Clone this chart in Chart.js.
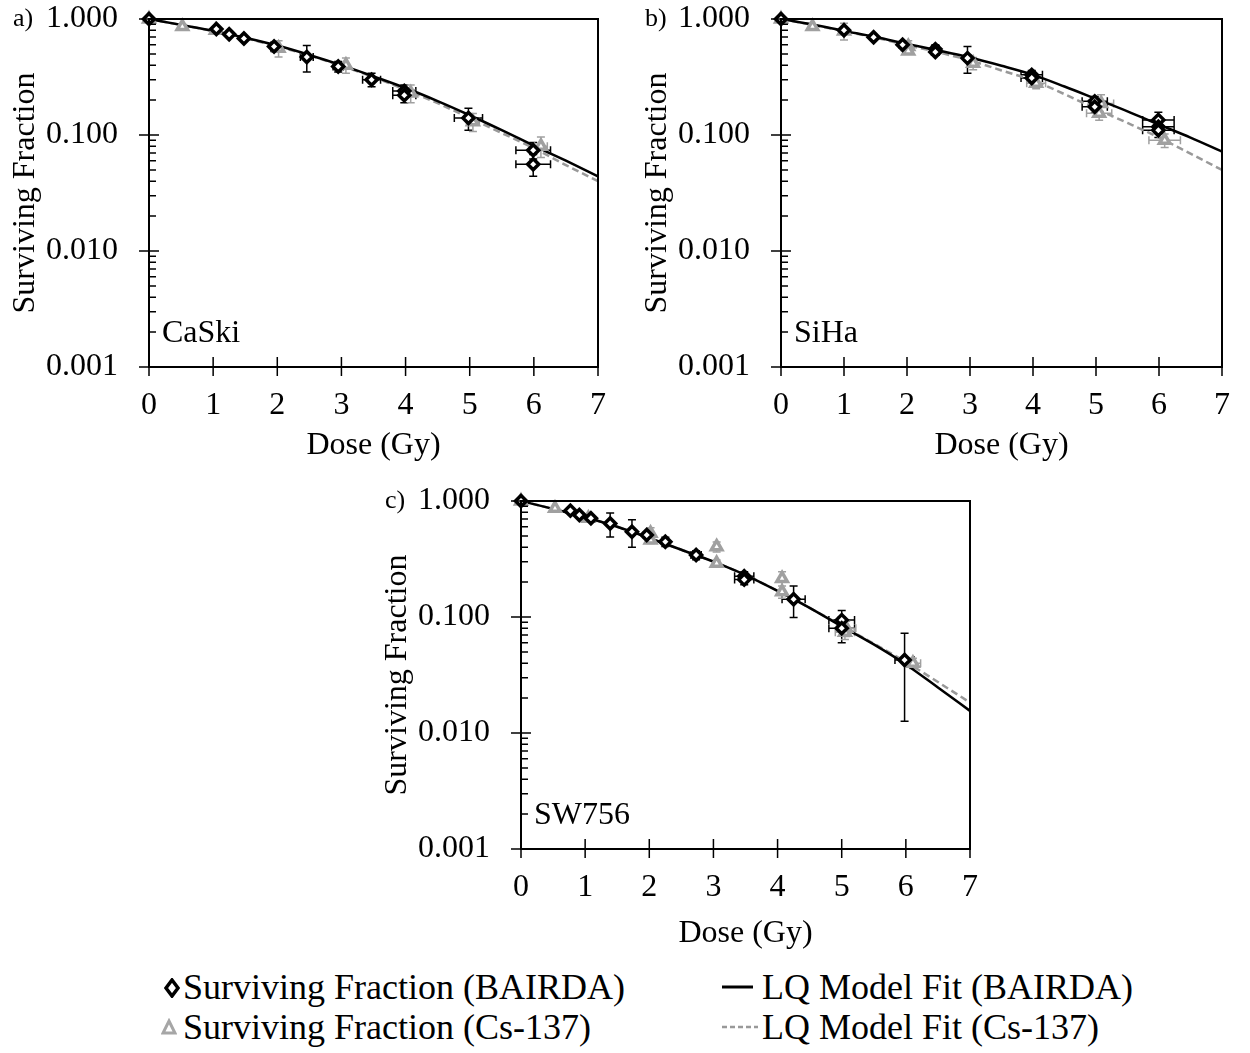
<!DOCTYPE html>
<html>
<head>
<meta charset="utf-8">
<title>Surviving Fraction vs Dose</title>
<script src="https://cdn.jsdelivr.net/npm/chart.js"></script>
<style>
    body { margin: 0; width: 1250px; height: 1053px; position: relative; overflow: hidden; background: #fff;
           font-family: "Liberation Serif", "Times New Roman", serif; }
    canvas { position: absolute; }
    .key { position: absolute; font-size: 36px; line-height: 40px; color: #000; white-space: nowrap; }
    .mark { position: absolute; }
</style>
</head>
<body>
<canvas id="chartA" width="625" height="470" style="left:0;top:0"></canvas>
<canvas id="chartB" width="617" height="470" style="left:632px;top:0"></canvas>
<canvas id="chartC" width="625" height="476" style="left:372px;top:482px"></canvas>

<!-- legend -->
<svg class="mark" style="left:164px;top:978px" width="16" height="20"><polygon points="8,2 14,10 8,18 2,10" fill="#fff" stroke="#000" stroke-width="3.5"/></svg>
<div class="key" style="left:183px;top:967px">Surviving Fraction (BAIRDA)</div>
<svg class="mark" style="left:161px;top:1018px" width="16" height="18"><polygon points="8,3 14,15 2,15" fill="#fff" stroke="#a6a6a6" stroke-width="3"/></svg>
<div class="key" style="left:183px;top:1007px">Surviving Fraction (Cs-137)</div>
<svg class="mark" style="left:722px;top:984px" width="32" height="6"><line x1="0" y1="3" x2="31" y2="3" stroke="#000" stroke-width="3"/></svg>
<div class="key" style="left:762px;top:967px">LQ Model Fit (BAIRDA)</div>
<svg class="mark" style="left:722px;top:1024px" width="36" height="6"><line x1="0" y1="3" x2="36" y2="3" stroke="#999" stroke-width="2.5" stroke-dasharray="5,3"/></svg>
<div class="key" style="left:762px;top:1007px">LQ Model Fit (Cs-137)</div>

<script>
    // axis ticks
    const doseTicks = [0, 1, 2, 3, 4, 5, 6, 7];
    const sfTicks = [
        0.001, 0.002, 0.003, 0.004, 0.005, 0.006, 0.007, 0.008, 0.009,
        0.01, 0.02, 0.03, 0.04, 0.05, 0.06, 0.07, 0.08, 0.09,
        0.1, 0.2, 0.3, 0.4, 0.5, 0.6, 0.7, 0.8, 0.9, 1
    ];

    // doses at which the LQ fits are tabulated
    const fitDose = [0, 0.5, 1, 1.5, 2, 2.5, 3, 3.5, 4, 4.5, 5, 5.5, 6, 6.5, 7];

    // CaSki
    const caskiBairdaDose    = [0, 1.05, 1.25, 1.48, 1.95, 2.46, 2.95, 3.47, 3.98, 3.98, 4.98, 5.99, 5.99];
    const caskiBairdaSF      = [1, 0.82, 0.74, 0.68, 0.58, 0.47, 0.39, 0.30, 0.24, 0.22, 0.14, 0.074, 0.056];
    const caskiBairdaSFErr   = [0, 0.03, 0.02, 0.02, 0.05, 0.12, 0.04, 0.04, 0.03, 0.03, 0.03, 0.012, 0.012];
    const caskiBairdaDoseErr = [0, 0, 0, 0, 0.05, 0.1, 0.08, 0.14, 0.18, 0.18, 0.22, 0.27, 0.27];
    const caskiCsDose        = [0, 0.52, 1.04, 2.02, 3.07, 4.08, 5.05, 6.11];
    const caskiCsSF          = [1, 0.86, 0.80, 0.56, 0.40, 0.23, 0.13, 0.08];
    const caskiCsSFErr       = [0, 0.04, 0.05, 0.09, 0.06, 0.04, 0.023, 0.016];
    const caskiCsDoseErr     = [0, 0, 0, 0, 0, 0.06, 0.1, 0.1];
    const caskiFitBairda     = [1, 0.89, 0.79, 0.69, 0.59, 0.49, 0.40, 0.32, 0.254, 0.196, 0.148, 0.11, 0.081, 0.06, 0.044];
    const caskiFitCs         = [1, 0.89, 0.785, 0.685, 0.58, 0.485, 0.395, 0.315, 0.245, 0.188, 0.14, 0.104, 0.077, 0.055, 0.040];

    // SiHa
    const sihaBairdaDose    = [0, 1.0, 1.47, 1.93, 2.45, 2.45, 2.96, 3.98, 3.98, 4.98, 4.98, 5.99, 5.99, 5.99];
    const sihaBairdaSF      = [1, 0.80, 0.695, 0.60, 0.55, 0.52, 0.46, 0.33, 0.31, 0.195, 0.175, 0.135, 0.118, 0.11];
    const sihaBairdaSFErr   = [0, 0.03, 0.03, 0.04, 0.05, 0.03, 0.12, 0.03, 0.03, 0.02, 0.02, 0.022, 0.015, 0.015];
    const sihaBairdaDoseErr = [0, 0, 0, 0.05, 0.06, 0.06, 0.05, 0.17, 0.17, 0.2, 0.2, 0.25, 0.25, 0.25];
    const sihaCsDose        = [0, 0.5, 1.0, 2.02, 2.02, 3.05, 4.05, 5.08, 5.05, 6.09];
    const sihaCsSF          = [1, 0.86, 0.79, 0.58, 0.53, 0.415, 0.28, 0.187, 0.154, 0.09];
    const sihaCsSFErr       = [0, 0.02, 0.13, 0.07, 0.03, 0.05, 0.03, 0.035, 0.02, 0.012];
    const sihaCsDoseErr     = [0, 0, 0, 0, 0, 0.05, 0.15, 0.2, 0.2, 0.25];
    const sihaFitBairda     = [1, 0.895, 0.79, 0.70, 0.61, 0.535, 0.465, 0.395, 0.33, 0.262, 0.205, 0.16, 0.123, 0.095, 0.072];
    const sihaFitCs         = [1, 0.89, 0.785, 0.69, 0.595, 0.515, 0.44, 0.36, 0.295, 0.225, 0.168, 0.127, 0.095, 0.069, 0.050];

    // SW756
    const sw756BairdaDose    = [0, 0.77, 0.91, 1.09, 1.39, 1.73, 1.96, 2.25, 2.73, 3.48, 3.48, 4.25, 5.0, 5.0, 5.98];
    const sw756BairdaSF      = [1, 0.826, 0.757, 0.71, 0.64, 0.544, 0.51, 0.446, 0.342, 0.225, 0.21, 0.142, 0.094, 0.08, 0.0426];
    const sw756BairdaSFErr   = [0, 0.02, 0.03, 0.02, 0.15, 0.145, 0.03, 0.04, 0.03, 0.02, 0.02, 0.043, 0.02, 0.02, 0.03];
    const sw756BairdaDoseErr = [0, 0, 0, 0.04, 0, 0, 0.04, 0.04, 0.08, 0.15, 0.15, 0.18, 0.2, 0.2, 0.15];
    const sw756CsDose        = [0, 0.53, 1.05, 2.02, 2.02, 3.05, 3.05, 4.07, 4.07, 5.07, 5.05, 6.11];
    const sw756CsSF          = [1, 0.865, 0.71, 0.527, 0.46, 0.404, 0.29, 0.215, 0.165, 0.08, 0.074, 0.040];
    const sw756CsSFErr       = [0, 0.02, 0.03, 0.06, 0.03, 0.04, 0.02, 0.03, 0.02, 0.012, 0.01, 0.004];
    const sw756CsDoseErr     = [0, 0, 0, 0, 0, 0, 0, 0, 0, 0.15, 0.15, 0.12];
    const sw756FitBairda     = [1, 0.855, 0.725, 0.60, 0.48, 0.38, 0.30, 0.23, 0.168, 0.12, 0.083, 0.058, 0.039, 0.0247, 0.0155];
    const sw756FitCs         = [1, 0.855, 0.725, 0.60, 0.48, 0.38, 0.30, 0.23, 0.168, 0.12, 0.084, 0.059, 0.041, 0.0275, 0.0183];

    const FONT = '"Liberation Serif", "Times New Roman", serif';
    const GREY = '#a0a0a0';

    const isDecade = v => Math.abs(Math.log10(v) - Math.round(Math.log10(v))) < 1e-9;

    // x/y error bars for the marker datasets
    const errorBars = {
        id: 'errorBars',
        beforeDatasetsDraw(chart) {
            const { ctx, scales: { x, y } } = chart;
            chart.data.datasets.forEach(ds => {
                if (!ds.sfErr) return;
                ctx.save();
                ctx.strokeStyle = ds.borderColor;
                ctx.lineWidth = 1.5;
                ctx.beginPath();
                ds.data.forEach((p, i) => {
                    const px = x.getPixelForValue(p.x);
                    const py = y.getPixelForValue(p.y);
                    const ey = ds.sfErr[i], ex = ds.doseErr[i];
                    if (ey > 0) {
                        const y1 = y.getPixelForValue(p.y + ey);
                        const y2 = y.getPixelForValue(Math.max(p.y - ey, 0.0005));
                        ctx.moveTo(px, y1); ctx.lineTo(px, y2);
                        ctx.moveTo(px - 4, y1); ctx.lineTo(px + 4, y1);
                        ctx.moveTo(px - 4, y2); ctx.lineTo(px + 4, y2);
                    }
                    if (ex > 0) {
                        const x1 = x.getPixelForValue(p.x - ex);
                        const x2 = x.getPixelForValue(p.x + ex);
                        ctx.moveTo(x1, py); ctx.lineTo(x2, py);
                        ctx.moveTo(x1, py - 4); ctx.lineTo(x1, py + 4);
                        ctx.moveTo(x2, py - 4); ctx.lineTo(x2, py + 4);
                    }
                });
                ctx.stroke();
                ctx.restore();
            });
        }
    };

    // plot box, crossing tick marks and the panel labels
    const frame = {
        id: 'frame',
        afterDraw(chart, args, opts) {
            const { ctx, chartArea: a, scales: { x, y } } = chart;
            ctx.save();
            ctx.strokeStyle = '#000';
            ctx.lineWidth = 1.5;
            ctx.beginPath();
            x.ticks.forEach(t => {
                const px = x.getPixelForValue(t.value);
                ctx.moveTo(px, a.bottom - 10);
                ctx.lineTo(px, a.bottom + 9);
            });
            y.ticks.forEach(t => {
                const py = y.getPixelForValue(t.value);
                const major = isDecade(t.value);
                ctx.moveTo(major ? a.left - 10 : a.left, py);
                ctx.lineTo(a.left + (major ? 10 : 7), py);
            });
            ctx.stroke();
            ctx.lineWidth = 2;
            ctx.strokeRect(a.left, a.top, a.right - a.left, a.bottom - a.top);

            ctx.fillStyle = '#000';
            ctx.textAlign = 'left';
            ctx.textBaseline = 'middle';
            ctx.font = '26px ' + FONT;
            ctx.fillText(opts.tag, a.left - 136, a.top);
            ctx.font = '32px ' + FONT;
            ctx.fillText(opts.cell, a.left + 13, a.bottom - 33);
            ctx.restore();
        }
    };

    function points(dose, sf) {
        return dose.map((d, i) => ({ x: d, y: sf[i] }));
    }

    function makePanel(id, tag, cell, rightPad, xHeight, s) {
        const ctx = document.getElementById(id).getContext('2d');
        return new Chart(ctx, {
            type: 'scatter',
            data: {
                datasets: [
                    {
                        label: 'Surviving Fraction (BAIRDA)',
                        data: points(s.bDose, s.bSF),
                        sfErr: s.bSFErr, doseErr: s.bDoseErr,
                        pointStyle: 'rectRot', pointRadius: 5.5,
                        borderColor: '#000', backgroundColor: '#fff', borderWidth: 3.5,
                        clip: false
                    },
                    {
                        label: 'Surviving Fraction (Cs-137)',
                        data: points(s.cDose, s.cSF),
                        sfErr: s.cSFErr, doseErr: s.cDoseErr,
                        pointStyle: 'triangle', pointRadius: 6,
                        borderColor: GREY, backgroundColor: '#fff', borderWidth: 3.5,
                        clip: false
                    },
                    {
                        type: 'line',
                        label: 'LQ Model Fit (BAIRDA)',
                        data: points(fitDose, s.bFit),
                        borderColor: '#000', borderWidth: 2.5,
                        pointRadius: 0, cubicInterpolationMode: 'monotone', fill: false
                    },
                    {
                        type: 'line',
                        label: 'LQ Model Fit (Cs-137)',
                        data: points(fitDose, s.cFit),
                        borderColor: '#999', borderWidth: 2.5, borderDash: [7, 4],
                        pointRadius: 0, cubicInterpolationMode: 'monotone', fill: false
                    }
                ]
            },
            options: {
                responsive: false,
                animation: false,
                layout: { padding: { top: 19, right: rightPad, bottom: 0, left: 0 } },
                plugins: {
                    legend: { display: false },
                    tooltip: { enabled: false },
                    frame: { tag: tag, cell: cell }
                },
                scales: {
                    x: {
                        type: 'linear', min: 0, max: 7,
                        afterBuildTicks: sc => { sc.ticks = doseTicks.map(v => ({ value: v })); },
                        afterFit: sc => { sc.height = xHeight; },
                        grid: { display: false, drawTicks: false },
                        border: { display: false },
                        ticks: { color: '#000', font: { family: FONT, size: 32 }, padding: 19, maxRotation: 0, autoSkip: false },
                        title: { display: true, text: 'Dose (Gy)', color: '#000',
                                 font: { family: FONT, size: 32 }, padding: { top: 0, bottom: 5 } }
                    },
                    y: {
                        type: 'logarithmic', min: 0.001, max: 1,
                        afterBuildTicks: sc => { sc.ticks = sfTicks.map(v => ({ value: v, major: isDecade(v) })); },
                        // fixed axis width; the top/bottom label overhang is handled by the layout padding
                        afterFit: sc => { sc.width = 149; sc.paddingTop = 0; sc.paddingBottom = 0; },
                        grid: { display: false, drawTicks: false },
                        border: { display: false },
                        ticks: { color: '#000', font: { family: FONT, size: 32 }, padding: 31, autoSkip: false,
                                 callback: v => isDecade(v) ? v.toFixed(3) : '' },
                        title: { display: true, text: 'Surviving Fraction', color: '#000',
                                 font: { family: FONT, size: 32 }, padding: { top: 6, bottom: 0 } }
                    }
                }
            },
            plugins: [errorBars, frame]
        });
    }

    makePanel('chartA', 'a)', 'CaSki', 17, 103, {
        bDose: caskiBairdaDose, bSF: caskiBairdaSF, bSFErr: caskiBairdaSFErr, bDoseErr: caskiBairdaDoseErr,
        cDose: caskiCsDose, cSF: caskiCsSF, cSFErr: caskiCsSFErr, cDoseErr: caskiCsDoseErr,
        bFit: caskiFitBairda, cFit: caskiFitCs
    });
    makePanel('chartB', 'b)', 'SiHa', 16, 103, {
        bDose: sihaBairdaDose, bSF: sihaBairdaSF, bSFErr: sihaBairdaSFErr, bDoseErr: sihaBairdaDoseErr,
        cDose: sihaCsDose, cSF: sihaCsSF, cSFErr: sihaCsSFErr, cDoseErr: sihaCsDoseErr,
        bFit: sihaFitBairda, cFit: sihaFitCs
    });
    makePanel('chartC', 'c)', 'SW756', 15, 109, {
        bDose: sw756BairdaDose, bSF: sw756BairdaSF, bSFErr: sw756BairdaSFErr, bDoseErr: sw756BairdaDoseErr,
        cDose: sw756CsDose, cSF: sw756CsSF, cSFErr: sw756CsSFErr, cDoseErr: sw756CsDoseErr,
        bFit: sw756FitBairda, cFit: sw756FitCs
    });
</script>
</body>
</html>
